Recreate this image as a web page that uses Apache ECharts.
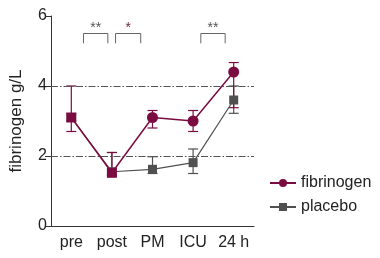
<!DOCTYPE html>
<html><head><meta charset="utf-8">
<script src="https://cdn.jsdelivr.net/npm/echarts@6/dist/echarts.min.js"></script>
<style>html,body{margin:0;padding:0;background:#fff}#c{width:380px;height:258px}</style>
</head><body><div id="c"></div>
<script>
const categories = ['pre', 'post', 'PM', 'ICU', '24 h'];
const fibrinogen = [3.1, 1.52, 3.1, 3.0, 4.4];
const fibrinogenLow = [2.7, 1.45, 2.8, 2.7, 3.38];
const fibrinogenHigh = [4.0, 2.1, 3.3, 3.3, 4.67];
const placebo = [3.1, 1.55, 1.62, 1.81, 3.6];
const placeboLow = [3.0, 1.45, 1.5, 1.5, 3.22];
const placeboHigh = [3.2, 2.1, 1.98, 2.2, 4.0];
const refLines = [2, 4];
const yTicks = [0, 2, 4, 6];
const bracketStart = [0.3, 1.09, 3.19];
const bracketEnd = [0.9, 1.71, 3.79];
const bracketTop = [5.5, 5.5, 5.5];
const bracketBottom = [5.22, 5.22, 5.22];
const bracketLabels = ['**', '*', '**'];

const MAROON = '#7a0c42';
const GREY = '#505050';
const FONT = 'Liberation Sans';

const chart = echarts.init(document.getElementById('c'), null, {renderer: 'canvas'});

function errorSeries(name, low, high, color, z) {
  return {
    type: 'custom', name: name + ' err', z: z, silent: true,
    data: categories.map((c, i) => [i, low[i], high[i]]),
    renderItem: function (params, api) {
      const lo = api.coord([api.value(0), api.value(1)]);
      const hi = api.coord([api.value(0), api.value(2)]);
      const w = 5;
      const st = {stroke: color, lineWidth: 1.2};
      return {type: 'group', children: [
        {type: 'line', shape: {x1: lo[0], y1: lo[1], x2: hi[0], y2: hi[1]}, style: st},
        {type: 'line', shape: {x1: lo[0]-w, y1: lo[1], x2: lo[0]+w, y2: lo[1]}, style: st},
        {type: 'line', shape: {x1: hi[0]-w, y1: hi[1], x2: hi[0]+w, y2: hi[1]}, style: st}
      ]};
    }
  };
}

function catX(api, v) {
  const f = Math.floor(v);
  return api.coord([f, 0])[0] + (v - f) * api.size([1, 0])[0];
}

const option = {
  animation: false,
  textStyle: {fontFamily: FONT},
  grid: {left: 48, right: 126, top: 16, bottom: 32, containLabel: false},
  legend: {
    orient: 'vertical', left: 264, top: 170, itemGap: 8,
    itemWidth: 26, itemHeight: 10,
    textStyle: {fontSize: 16, color: '#222', fontFamily: FONT},
    data: ['fibrinogen', 'placebo']
  },
  xAxis: {
    type: 'category', data: categories, boundaryGap: true,
    axisLine: {lineStyle: {color: '#333', width: 1}},
    axisTick: {alignWithLabel: true, length: 5, lineStyle: {color: '#333'}},
    axisLabel: {fontSize: 16, color: '#222', margin: 9, fontFamily: FONT}
  },
  yAxis: {
    type: 'value', min: yTicks[0], max: yTicks[yTicks.length-1], interval: 2,
    name: 'fibrinogen g/L', nameLocation: 'middle', nameRotate: 90, nameGap: 26,
    nameTextStyle: {fontSize: 17, color: '#222', fontFamily: FONT},
    axisLine: {show: true, lineStyle: {color: '#333', width: 1}},
    axisTick: {show: true, length: 6, lineStyle: {color: '#333'}},
    axisLabel: {fontSize: 16, color: '#222', margin: 4, fontFamily: FONT},
    splitLine: {show: false}
  },
  series: [
    errorSeries('placebo', placeboLow, placeboHigh, GREY, 2),
    errorSeries('fibrinogen', fibrinogenLow, fibrinogenHigh, MAROON, 3),
    {
      name: 'placebo', type: 'line', z: 4,
      data: placebo, symbol: 'rect', symbolSize: 9,
      itemStyle: {color: GREY}, lineStyle: {color: GREY, width: 1.2},
      markLine: {
        silent: true, symbol: 'none', label: {show: false},
        lineStyle: {color: '#555', width: 1.2, type: [7, 2, 1.5, 2]},
        data: refLines.map(v => ({yAxis: v}))
      }
    },
    {
      name: 'fibrinogen', type: 'line', z: 5,
      data: fibrinogen.map((v, i) => i < 2 ? {value: v, symbol: 'rect', symbolSize: 10} : v),
      symbol: 'circle', symbolSize: 11,
      itemStyle: {color: MAROON}, lineStyle: {color: MAROON, width: 1.5}
    },
    {
      type: 'custom', name: 'brackets', silent: true, z: 6,
      data: bracketLabels.map((l, i) => [i]),
      renderItem: function (params, api) {
        const i = params.dataIndex;
        const x1 = catX(api, bracketStart[i]);
        const x2 = catX(api, bracketEnd[i]);
        const yt = api.coord([0, bracketTop[i]])[1];
        const yb = api.coord([0, bracketBottom[i]])[1];
        const st = {stroke: '#666', lineWidth: 1, fill: null};
        return {type: 'group', children: [
          {type: 'polyline', shape: {points: [[x1, yb], [x1, yt], [x2, yt], [x2, yb]]}, style: st},
          {type: 'text', style: {text: bracketLabels[i], x: (x1 + x2) / 2, y: yt + 2,
            align: 'center', verticalAlign: 'bottom', fontSize: 14, fontFamily: FONT,
            fill: i === 1 ? '#6e2a50' : '#555'}}
        ]};
      }
    }
  ]
};
chart.setOption(option);
</script></body></html>
